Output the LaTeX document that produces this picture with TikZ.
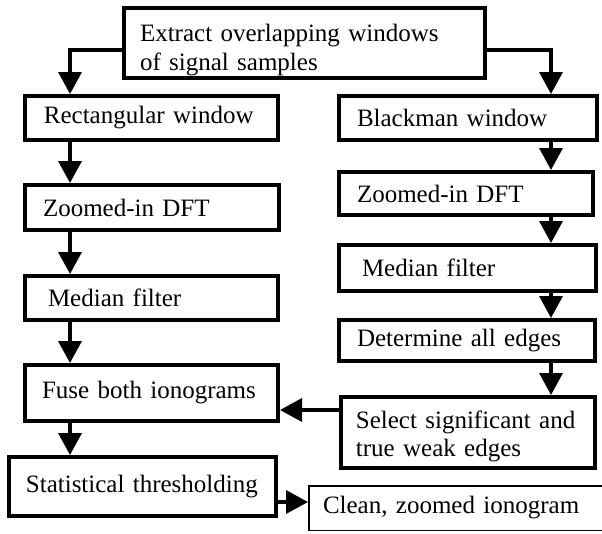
\documentclass[tikz,border=0pt]{standalone}
\usepackage{fontspec}
\setmainfont{Liberation Serif}
\usetikzlibrary{arrows.meta}
\begin{document}
\begin{tikzpicture}[x=1pt,y=-1pt,
  box/.style={draw, line width=3.8pt, anchor=north west, inner ysep=0pt, align=left,
    font=\fontsize{25}{29}\selectfont},
  thinbox/.style={box, line width=1.5pt},
  arr/.style={line width=3.5pt, -{Triangle[length=22pt,width=23pt]}}]
\useasboundingbox (0,0) rectangle (602,533);

\node[box, minimum width=361.2pt, minimum height=70.2pt, inner xsep=16.1pt, text width=329pt] (top) at (122,6)
  {\rule{0pt}{31pt}Extract overlapping windows\\of signal samples};

\node[box, minimum width=253.2pt, minimum height=44.2pt, inner xsep=19pt, text width=215.2pt] (rect) at (23,94) {Rectangular window};
\node[box, minimum width=258.2pt, minimum height=44.2pt, inner xsep=18.1pt, text width=222pt] (black) at (337,94) {Blackman window};

\node[box, minimum width=254.2pt, minimum height=45.2pt, inner xsep=18.1pt, text width=218pt] (dftL) at (23,183) {Zoomed-in DFT};
\node[box, minimum width=254.2pt, minimum height=43.2pt, inner xsep=18.1pt, text width=218pt] (dftR) at (337,170) {Zoomed-in DFT};

\node[box, minimum width=253.2pt, minimum height=44.2pt, inner xsep=23.1pt, text width=207pt] (medL) at (23,274) {Median filter};
\node[box, minimum width=257.2pt, minimum height=46.2pt, inner xsep=23.1pt, text width=211pt] (medR) at (337,243) {Median filter};

\node[box, minimum width=256.2pt, minimum height=41.2pt, inner xsep=18.1pt, text width=220pt] (det) at (337,318) {Determine all edges};

\node[box, minimum width=254.2pt, minimum height=71.2pt, inner xsep=15pt, text width=224.2pt,
  font=\fontsize{25}{28}\selectfont] (sel) at (339,395)
  {\rule{0pt}{25pt}Select significant and\\true weak edges};

\node[box, minimum width=253.2pt, minimum height=56.2pt, inner xsep=17.1pt, text width=219pt] (fuse) at (23,363) {Fuse both ionograms};
\node[box, minimum width=267.2pt, minimum height=59.2pt, inner xsep=17pt, text width=233.2pt] (stat) at (7,455) {Statistical thresholding};

\node[thinbox, minimum width=300.5pt, minimum height=44.5pt, inner xsep=14.25pt, text width=272pt] (clean) at (308,485) {Clean, zoomed ionogram};

\coordinate (lc) at (70,0);
\coordinate (rc) at (551,0);
\coordinate (ya) at (0,50);
\coordinate (ys) at (0,410);
\coordinate (yc) at (0,502);

\draw[arr] (top.west |- ya) -| (lc |- rect.north);
\draw[arr] (top.east |- ya) -| (rc |- black.north);

\draw[arr] (lc |- rect.south) -- (lc |- dftL.north);
\draw[arr] (lc |- dftL.south) -- (lc |- medL.north);
\draw[arr] (lc |- medL.south) -- (lc |- fuse.north);
\draw[arr] (lc |- fuse.south) -- (lc |- stat.north);

\draw[arr] (rc |- black.south) -- (rc |- dftR.north);
\draw[arr] (rc |- dftR.south) -- (rc |- medR.north);
\draw[arr] (rc |- medR.south) -- (rc |- det.north);
\draw[arr] (rc |- det.south) -- (rc |- sel.north);

\draw[arr] (sel.west |- ys) -- (fuse.east |- ys);
\draw[arr] (stat.east |- yc) -- (clean.west |- yc);
\end{tikzpicture}
\end{document}
